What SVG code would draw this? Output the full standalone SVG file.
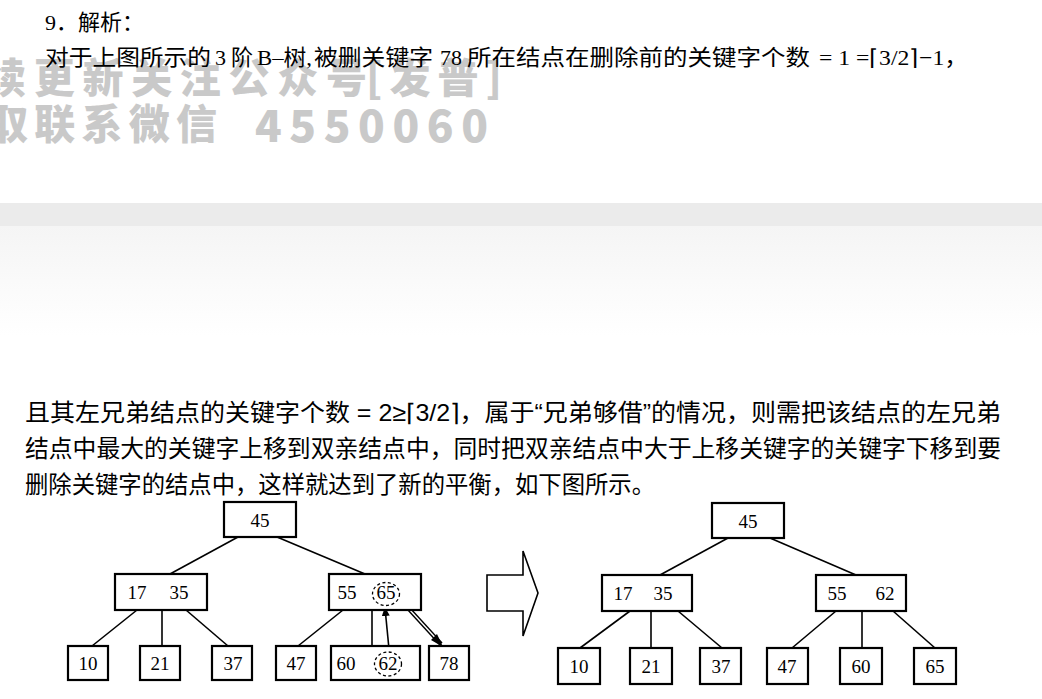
<svg xmlns="http://www.w3.org/2000/svg" width="1042" height="699" viewBox="0 0 1042 699">
<style>
.box{fill:#fff;stroke:#000;stroke-width:2.2}
.lbl{font-family:"Liberation Serif","Noto Sans CJK SC",serif;font-size:19px;fill:#000;text-anchor:middle}
.edge{stroke:#000;stroke-width:1.6;fill:none}
.dash{fill:none;stroke:#000;stroke-width:1.3;stroke-dasharray:3 2.5}
.wm{font-family:"Noto Sans CJK SC","Liberation Sans",sans-serif;font-weight:900;fill:#c9c9c9}
.t1{font-family:"Liberation Serif","Noto Sans CJK SC",serif;font-size:22px;fill:#000}
.t2{font-family:"Liberation Sans","Noto Sans CJK SC",sans-serif;font-size:24px;fill:#000}
</style>
<defs>
<linearGradient id="fade" x1="0" y1="0" x2="0" y2="1">
<stop offset="0" stop-color="#f5f5f5"/>
<stop offset="1" stop-color="#ffffff"/>
</linearGradient>
<marker id="ah" markerWidth="9" markerHeight="8" refX="8" refY="4" orient="auto" markerUnits="userSpaceOnUse">
<path d="M0,0 L9,4 L0,8 z" fill="#000"/>
</marker>
</defs>
<rect width="1042" height="699" fill="#fff"/>
<!-- page break band -->
<rect x="0" y="203" width="1042" height="23" fill="#ebebeb"/>
<rect x="0" y="226" width="1042" height="110" fill="url(#fade)"/>

<!-- watermark -->
<g id="watermark">
<text class="wm" x="-15" y="93" font-size="41" textLength="382" lengthAdjust="spacing">续更新关注公众号</text>
<text class="wm" x="366" y="93" font-size="41" textLength="136" lengthAdjust="spacing">[发普]</text>
<text class="wm" x="-13" y="139" font-size="41" textLength="230" lengthAdjust="spacing">取联系微信</text>
<text class="wm" x="255" y="142" font-size="44" font-family="Liberation Sans, sans-serif" textLength="233" lengthAdjust="spacing">4550060</text>
</g>

<!-- header text -->
<g id="header">
<text class="t1" x="45" y="30" font-size="20" font-family="Noto Sans CJK SC, sans-serif">9．解析：</text>
<text class="t1" x="45" y="65" textLength="166" lengthAdjust="spacingAndGlyphs">对于上图所示的</text>
<text class="t1" x="215" y="65">3</text>
<text class="t1" x="231" y="65" textLength="22" lengthAdjust="spacingAndGlyphs">阶</text>
<text class="t1" x="257" y="65" textLength="55" lengthAdjust="spacingAndGlyphs">B–树,</text>
<text class="t1" x="314" y="65" textLength="119" lengthAdjust="spacingAndGlyphs">被删关键字</text>
<text class="t1" x="440" y="65">78</text>
<text class="t1" x="467" y="65" textLength="343" lengthAdjust="spacingAndGlyphs">所在结点在删除前的关键字个数</text>
<text class="t1" x="819" y="65" textLength="149" lengthAdjust="spacingAndGlyphs">= 1 =⌈3/2⌉−1，</text>
</g>

<g id="paragraph">
<text class="t2" x="25" y="421" textLength="976" lengthAdjust="spacingAndGlyphs">且其左兄弟结点的关键字个数 = 2≥⌈3/2⌉，属于“兄弟够借”的情况，则需把该结点的左兄弟</text>
<text class="t2" x="25" y="457" textLength="976" lengthAdjust="spacingAndGlyphs">结点中最大的关键字上移到双亲结点中，同时把双亲结点中大于上移关键字的关键字下移到要</text>
<text class="t2" x="25" y="493" textLength="630" lengthAdjust="spacingAndGlyphs">删除关键字的结点中，这样就达到了新的平衡，如下图所示。</text>
</g>

<!-- connectors -->
<g id="connectors">
<line class="edge" x1="238" y1="537" x2="170" y2="574"/>
<line class="edge" x1="277" y1="537" x2="365" y2="574"/>
<line class="edge" x1="137" y1="610" x2="92" y2="646"/>
<line class="edge" x1="162" y1="610" x2="162" y2="646"/>
<line class="edge" x1="186" y1="610" x2="228" y2="646"/>
<line class="edge" x1="343" y1="610" x2="298" y2="646"/>
<line class="edge" x1="372" y1="610" x2="372" y2="646"/>
<line class="edge" x1="389" y1="649" x2="385" y2="608" marker-end="url(#ah)"/>
<line x1="398" y1="597" x2="441" y2="644" stroke="#000" stroke-width="4.2"/>
<line x1="398" y1="597" x2="436" y2="638.5" stroke="#fff" stroke-width="1.4"/>
<polygon points="443,647 431,640 437,634" fill="#000"/>

<line class="edge" x1="728" y1="538" x2="660" y2="575"/>
<line class="edge" x1="770" y1="538" x2="856" y2="575"/>
<line class="edge" x1="630" y1="611" x2="580" y2="648"/>
<line class="edge" x1="651" y1="611" x2="651" y2="648"/>
<line class="edge" x1="678" y1="611" x2="722" y2="648"/>
<line class="edge" x1="836" y1="611" x2="792" y2="648"/>
<line class="edge" x1="862" y1="611" x2="862" y2="648"/>
<line class="edge" x1="893" y1="611" x2="935" y2="648"/>
</g>

<!-- transform arrow -->
<g id="bigArrow">
<polygon points="487,575 523,575 523,551 538,593 523,636 523,611 487,611" fill="#fff" stroke="#000" stroke-width="1.6" stroke-linejoin="miter"/>
</g>

<!-- left tree -->
<g id="L-45"><rect class="box" x="224" y="502" width="72" height="35"/><text class="lbl" x="260" y="527">45</text></g>
<g id="L-17-35"><rect class="box" x="115" y="574" width="92" height="36"/><text class="lbl" x="137" y="599">17</text><text class="lbl" x="179" y="599">35</text></g>
<g id="L-55-65"><rect class="box" x="329" y="574" width="92" height="36"/><text class="lbl" x="347" y="599">55</text><text class="lbl" x="386" y="599">65</text><ellipse class="dash" cx="386" cy="594" rx="13.5" ry="11.5"/></g>
<g id="L-10"><rect class="box" x="68" y="646" width="40" height="34"/><text class="lbl" x="88" y="670">10</text></g>
<g id="L-21"><rect class="box" x="140" y="646" width="40" height="34"/><text class="lbl" x="160" y="670">21</text></g>
<g id="L-37"><rect class="box" x="212" y="646" width="40" height="34"/><text class="lbl" x="233" y="670">37</text></g>
<g id="L-47"><rect class="box" x="276" y="646" width="40" height="34"/><text class="lbl" x="296" y="670">47</text></g>
<g id="L-60-62"><rect class="box" x="331" y="646" width="89" height="34"/><text class="lbl" x="346" y="670">60</text><text class="lbl" x="388" y="670">62</text><ellipse class="dash" cx="388" cy="664" rx="13.5" ry="12"/></g>
<g id="L-78"><rect class="box" x="429" y="646" width="40" height="34"/><text class="lbl" x="449" y="670">78</text></g>

<!-- right tree -->
<g id="R-45"><rect class="box" x="712" y="503" width="72" height="35"/><text class="lbl" x="748" y="528">45</text></g>
<g id="R-17-35"><rect class="box" x="602" y="575" width="90" height="36"/><text class="lbl" x="623" y="600">17</text><text class="lbl" x="663" y="600">35</text></g>
<g id="R-55-62"><rect class="box" x="816" y="575" width="90" height="36"/><text class="lbl" x="837" y="600">55</text><text class="lbl" x="885" y="600">62</text></g>
<g id="R-10"><rect class="box" x="558" y="648" width="42" height="36"/><text class="lbl" x="579" y="673">10</text></g>
<g id="R-21"><rect class="box" x="630" y="648" width="42" height="36"/><text class="lbl" x="651" y="673">21</text></g>
<g id="R-37"><rect class="box" x="700" y="648" width="41" height="36"/><text class="lbl" x="721" y="673">37</text></g>
<g id="R-47"><rect class="box" x="767" y="648" width="41" height="36"/><text class="lbl" x="787" y="673">47</text></g>
<g id="R-60"><rect class="box" x="840" y="648" width="42" height="36"/><text class="lbl" x="861" y="673">60</text></g>
<g id="R-65"><rect class="box" x="914" y="648" width="42" height="36"/><text class="lbl" x="935" y="673">65</text></g>
</svg>
